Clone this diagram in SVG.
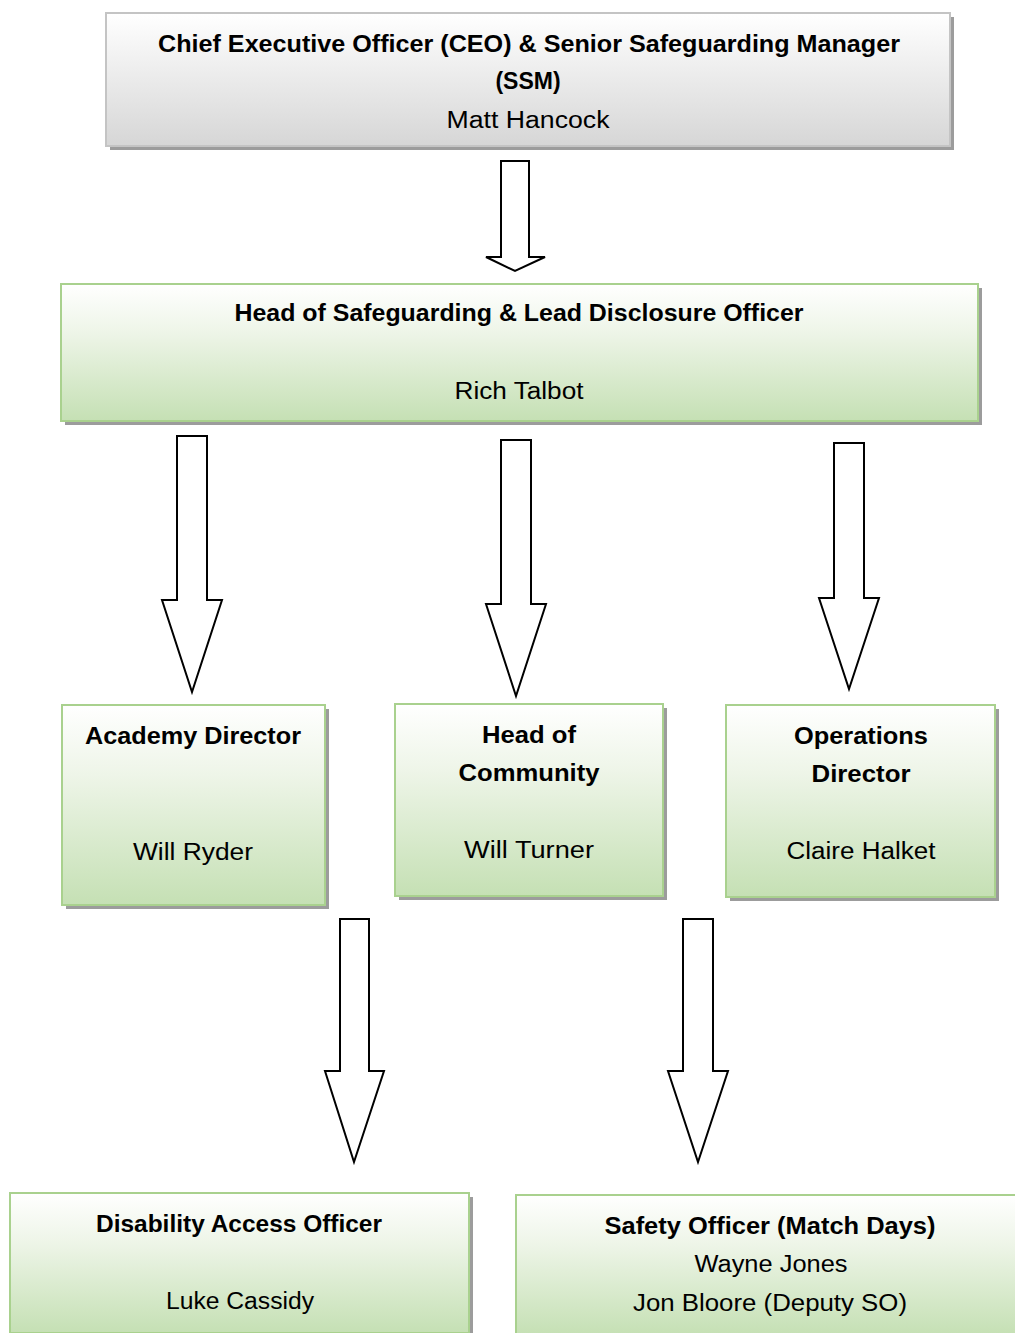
<svg xmlns="http://www.w3.org/2000/svg" width="1015" height="1333" viewBox="0 0 1015 1333">
<defs>
<linearGradient id="gGray" x1="0" y1="0" x2="0" y2="1">
<stop offset="0" stop-color="#ffffff"/>
<stop offset="1" stop-color="#d6d6d6"/>
</linearGradient>
<linearGradient id="gGreen" x1="0" y1="0" x2="0" y2="1">
<stop offset="0" stop-color="#ffffff"/>
<stop offset="0.35" stop-color="#eef5e8"/>
<stop offset="1" stop-color="#c5e0b4"/>
</linearGradient>
</defs>
<style>
.shadow{fill:#9c9c9c}
.gray{fill:url(#gGray);stroke:#c4c4c4;stroke-width:2}
.green{fill:url(#gGreen);stroke:#a9d18e;stroke-width:2}
.arrow{fill:#ffffff;stroke:#000000;stroke-width:2;stroke-linejoin:miter}
text{font-family:"Liberation Sans",Arial,sans-serif;font-size:23px;fill:#000;text-anchor:middle}
.b{font-weight:bold}
</style>
<rect width="1015" height="1333" fill="#ffffff"/>

<g id="connectors">
<polygon class="arrow" points="501,161 529,161 529,257 545,257 515,271 486,257 501,257"/>
<polygon class="arrow" points="177,436 207,436 207,600 222,600 192,692 162,600 177,600"/>
<polygon class="arrow" points="501,440 531,440 531,604 546,604 516,696 486,604 501,604"/>
<polygon class="arrow" points="834,443 864,443 864,598 879,598 849,689 819,598 834,598"/>
<polygon class="arrow" points="340,919 369,919 369,1071 384,1071 354,1162 325,1071 340,1071"/>
<polygon class="arrow" points="683,919 713,919 713,1071 728,1071 698,1162 668,1071 683,1071"/>
</g>

<g id="ceo">
<rect class="shadow" x="110" y="17" width="844" height="133"/>
<rect class="gray" x="106" y="13" width="844" height="133"/>
<text class="b" x="529" y="52" textLength="742" lengthAdjust="spacingAndGlyphs">Chief Executive Officer (CEO) &amp; Senior Safeguarding Manager</text>
<text class="b" x="528" y="89">(SSM)</text>
<text x="528" y="128" textLength="163" lengthAdjust="spacingAndGlyphs">Matt Hancock</text>
</g>

<g id="head-safeguarding">
<rect class="shadow" x="65" y="288" width="917" height="137"/>
<rect class="green" x="61" y="284" width="917" height="137"/>
<text class="b" x="519" y="321" textLength="569" lengthAdjust="spacingAndGlyphs">Head of Safeguarding &amp; Lead Disclosure Officer</text>
<text x="519" y="399" textLength="129" lengthAdjust="spacingAndGlyphs">Rich Talbot</text>
</g>

<g id="academy-director">
<rect class="shadow" x="66" y="709" width="263" height="200"/>
<rect class="green" x="62" y="705" width="263" height="200"/>
<text class="b" x="193" y="744" textLength="216" lengthAdjust="spacingAndGlyphs">Academy Director</text>
<text x="193" y="860" textLength="120" lengthAdjust="spacingAndGlyphs">Will Ryder</text>
</g>

<g id="head-community">
<rect class="shadow" x="399" y="708" width="268" height="192"/>
<rect class="green" x="395" y="704" width="268" height="192"/>
<text class="b" x="529" y="743" textLength="94" lengthAdjust="spacingAndGlyphs">Head of</text>
<text class="b" x="529" y="781" textLength="141" lengthAdjust="spacingAndGlyphs">Community</text>
<text x="529" y="858" textLength="130" lengthAdjust="spacingAndGlyphs">Will Turner</text>
</g>

<g id="operations-director">
<rect class="shadow" x="730" y="709" width="269" height="192"/>
<rect class="green" x="726" y="705" width="269" height="192"/>
<text class="b" x="861" y="744" textLength="134" lengthAdjust="spacingAndGlyphs">Operations</text>
<text class="b" x="861" y="782" textLength="99" lengthAdjust="spacingAndGlyphs">Director</text>
<text x="861" y="859" textLength="149" lengthAdjust="spacingAndGlyphs">Claire Halket</text>
</g>

<g id="disability-access">
<rect class="shadow" x="14" y="1197" width="459" height="140"/>
<rect class="green" x="10" y="1193" width="459" height="140"/>
<text class="b" x="239" y="1232" textLength="286" lengthAdjust="spacingAndGlyphs">Disability Access Officer</text>
<text x="240" y="1309" textLength="148" lengthAdjust="spacingAndGlyphs">Luke Cassidy</text>
</g>

<g id="safety-officer">
<rect class="shadow" x="520" y="1199" width="500" height="140"/>
<rect class="green" x="516" y="1195" width="504" height="140"/>
<text class="b" x="770" y="1234" textLength="331" lengthAdjust="spacingAndGlyphs">Safety Officer (Match Days)</text>
<text x="771" y="1272" textLength="153" lengthAdjust="spacingAndGlyphs">Wayne Jones</text>
<text x="770" y="1311" textLength="274" lengthAdjust="spacingAndGlyphs">Jon Bloore (Deputy SO)</text>
</g>
</svg>
